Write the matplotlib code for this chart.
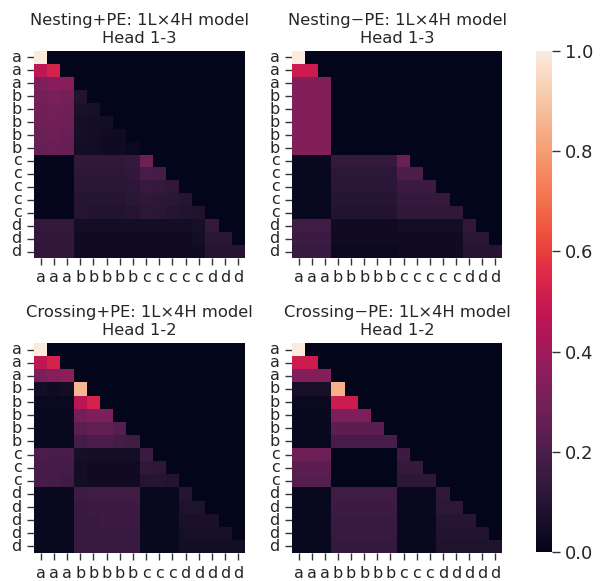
import numpy as np
import matplotlib
matplotlib.use("Agg")
import matplotlib.pyplot as plt
import seaborn as sns

sns.set_theme(style="ticks")
plt.rcParams['font.family'] = ['DejaVu Sans']

nest_labels = list("aaabbbbbcccccddd")
cross_labels = list("aaabbbbbcccddddd")

titles = ["Nesting+PE: 1L\u00d74H model\nHead 1-3",
          "Nesting\u2212PE: 1L\u00d74H model\nHead 1-3",
          "Crossing+PE: 1L\u00d74H model\nHead 1-2",
          "Crossing\u2212PE: 1L\u00d74H model\nHead 1-2"]

# lower-triangular rows (row i has i+1 values); upper part is 0
nest_pe_rows = [
    [1.0],
    [0.47, 0.53],
    [0.32, 0.34, 0.34],
    [0.30, 0.31, 0.30, 0.09],
    [0.29, 0.30, 0.29, 0.07, 0.06],
    [0.28, 0.29, 0.28, 0.06, 0.05, 0.05],
    [0.27, 0.28, 0.27, 0.06, 0.05, 0.04, 0.04],
    [0.26, 0.27, 0.26, 0.05, 0.05, 0.04, 0.04, 0.03],
    [0.01, 0.01, 0.01, 0.13, 0.13, 0.13, 0.13, 0.14, 0.28],
    [0.01, 0.01, 0.01, 0.12, 0.12, 0.12, 0.12, 0.13, 0.19, 0.18],
    [0.01, 0.01, 0.01, 0.11, 0.11, 0.11, 0.11, 0.12, 0.15, 0.14, 0.13],
    [0.01, 0.01, 0.01, 0.10, 0.10, 0.10, 0.10, 0.11, 0.13, 0.12, 0.11, 0.10],
    [0.01, 0.01, 0.01, 0.10, 0.09, 0.09, 0.09, 0.10, 0.12, 0.11, 0.10, 0.09, 0.08],
    [0.14, 0.14, 0.14, 0.05, 0.05, 0.05, 0.05, 0.05, 0.05, 0.05, 0.05, 0.05, 0.06, 0.14],
    [0.13, 0.13, 0.13, 0.04, 0.04, 0.04, 0.04, 0.04, 0.04, 0.04, 0.04, 0.04, 0.05, 0.11, 0.11],
    [0.13, 0.13, 0.13, 0.04, 0.04, 0.04, 0.04, 0.04, 0.04, 0.04, 0.04, 0.04, 0.04, 0.10, 0.10, 0.10],
]

nest_nope_rows = [
    [1.0],
    [0.50, 0.50],
    [0.33, 0.33, 0.33],
    [0.33, 0.33, 0.33, 0.0],
    [0.33, 0.33, 0.33, 0.0, 0.0],
    [0.33, 0.33, 0.33, 0.0, 0.0, 0.0],
    [0.33, 0.33, 0.33, 0.0, 0.0, 0.0, 0.0],
    [0.33, 0.33, 0.33, 0.0, 0.0, 0.0, 0.0, 0.0],
    [0.02, 0.02, 0.02, 0.14, 0.14, 0.14, 0.14, 0.14, 0.27],
    [0.02, 0.02, 0.02, 0.12, 0.12, 0.12, 0.12, 0.12, 0.20, 0.20],
    [0.02, 0.02, 0.02, 0.11, 0.11, 0.11, 0.11, 0.11, 0.16, 0.16, 0.16],
    [0.02, 0.02, 0.02, 0.10, 0.10, 0.10, 0.10, 0.10, 0.14, 0.14, 0.14, 0.14],
    [0.02, 0.02, 0.02, 0.09, 0.09, 0.09, 0.09, 0.09, 0.13, 0.13, 0.13, 0.13, 0.13],
    [0.17, 0.17, 0.17, 0.04, 0.04, 0.04, 0.04, 0.04, 0.05, 0.05, 0.05, 0.05, 0.05, 0.13],
    [0.16, 0.16, 0.16, 0.04, 0.04, 0.04, 0.04, 0.04, 0.04, 0.04, 0.04, 0.04, 0.04, 0.11, 0.11],
    [0.15, 0.15, 0.15, 0.03, 0.03, 0.03, 0.03, 0.03, 0.04, 0.04, 0.04, 0.04, 0.04, 0.10, 0.10, 0.10],
]

cross_pe_rows = [
    [1.0],
    [0.47, 0.53],
    [0.31, 0.34, 0.35],
    [0.05, 0.04, 0.05, 0.86],
    [0.03, 0.03, 0.03, 0.46, 0.53],
    [0.02, 0.02, 0.02, 0.30, 0.32, 0.32],
    [0.02, 0.02, 0.02, 0.24, 0.25, 0.25, 0.22],
    [0.02, 0.02, 0.02, 0.18, 0.20, 0.20, 0.18, 0.17],
    [0.20, 0.19, 0.19, 0.06, 0.05, 0.05, 0.05, 0.05, 0.16],
    [0.19, 0.18, 0.18, 0.05, 0.04, 0.04, 0.04, 0.04, 0.13, 0.12],
    [0.19, 0.18, 0.17, 0.05, 0.04, 0.04, 0.04, 0.04, 0.10, 0.10, 0.09],
    [0.02, 0.02, 0.02, 0.16, 0.17, 0.17, 0.17, 0.17, 0.02, 0.02, 0.02, 0.10],
    [0.02, 0.02, 0.02, 0.15, 0.16, 0.16, 0.16, 0.16, 0.02, 0.02, 0.02, 0.08, 0.08],
    [0.02, 0.02, 0.02, 0.15, 0.15, 0.16, 0.16, 0.16, 0.02, 0.02, 0.02, 0.07, 0.07, 0.07],
    [0.02, 0.02, 0.02, 0.15, 0.15, 0.15, 0.15, 0.15, 0.02, 0.02, 0.02, 0.06, 0.06, 0.06, 0.06],
    [0.02, 0.02, 0.02, 0.15, 0.15, 0.15, 0.15, 0.15, 0.02, 0.02, 0.02, 0.05, 0.05, 0.05, 0.05, 0.05],
]

cross_nope_rows = [
    [1.0],
    [0.50, 0.50],
    [0.33, 0.33, 0.33],
    [0.06, 0.06, 0.06, 0.85],
    [0.03, 0.03, 0.03, 0.50, 0.50],
    [0.02, 0.02, 0.02, 0.32, 0.32, 0.32],
    [0.02, 0.02, 0.02, 0.24, 0.24, 0.24, 0.24],
    [0.02, 0.02, 0.02, 0.19, 0.19, 0.19, 0.19, 0.19],
    [0.28, 0.28, 0.28, 0.0, 0.0, 0.0, 0.0, 0.0, 0.16],
    [0.24, 0.24, 0.24, 0.0, 0.0, 0.0, 0.0, 0.0, 0.14, 0.14],
    [0.22, 0.22, 0.22, 0.0, 0.0, 0.0, 0.0, 0.0, 0.12, 0.12, 0.12],
    [0.02, 0.02, 0.02, 0.17, 0.17, 0.17, 0.17, 0.17, 0.02, 0.02, 0.02, 0.13],
    [0.02, 0.02, 0.02, 0.16, 0.16, 0.16, 0.16, 0.16, 0.02, 0.02, 0.02, 0.12, 0.12],
    [0.02, 0.02, 0.02, 0.15, 0.15, 0.15, 0.15, 0.15, 0.02, 0.02, 0.02, 0.10, 0.10, 0.10],
    [0.02, 0.02, 0.02, 0.15, 0.15, 0.15, 0.15, 0.15, 0.02, 0.02, 0.02, 0.09, 0.09, 0.09, 0.09],
    [0.02, 0.02, 0.02, 0.14, 0.14, 0.14, 0.14, 0.14, 0.02, 0.02, 0.02, 0.08, 0.08, 0.08, 0.08, 0.08],
]


def to_matrix(rows):
    n = len(rows)
    m = np.zeros((n, n))
    for i, r in enumerate(rows):
        m[i, :len(r)] = r
    return m


W, H = 605, 581
fig = plt.figure(figsize=(W / 100, H / 100), dpi=100)


def px_axes(l, r, t, b):
    return fig.add_axes([l / W, 1 - b / H, (r - l) / W, (b - t) / H])


boxes = [(34, 245, 51, 258), (292, 502, 51, 258),
         (34, 245, 343, 553), (292, 502, 343, 553)]
mats = [nest_pe_rows, nest_nope_rows, cross_pe_rows, cross_nope_rows]
labs = [nest_labels, nest_labels, cross_labels, cross_labels]
cax = px_axes(536, 552, 51, 552)

for k in range(4):
    ax = px_axes(*boxes[k])
    sns.heatmap(to_matrix(mats[k]), ax=ax, vmin=0, vmax=1, cmap="rocket",
                cbar=(k == 0), cbar_ax=cax if k == 0 else None,
                xticklabels=labs[k], yticklabels=labs[k])
    ax.set_title(titles[k], fontsize=11.8, pad=6)
    ax.tick_params(axis='both', length=5, width=1, color='#333333')
    ax.tick_params(axis='x', pad=4)
    ax.tick_params(axis='y', pad=4)
    ax.set_yticklabels(labs[k], rotation=0, fontsize=11.5)
    ax.set_xticklabels(labs[k], rotation=0, fontsize=11.5)

cax.tick_params(labelsize=13, length=6, width=1, color='#333333')
cax.set_yticks([0, 0.2, 0.4, 0.6, 0.8, 1.0])
cax.set_yticklabels(["0.0", "0.2", "0.4", "0.6", "0.8", "1.0"])

fig.savefig("out.png", dpi=100)
